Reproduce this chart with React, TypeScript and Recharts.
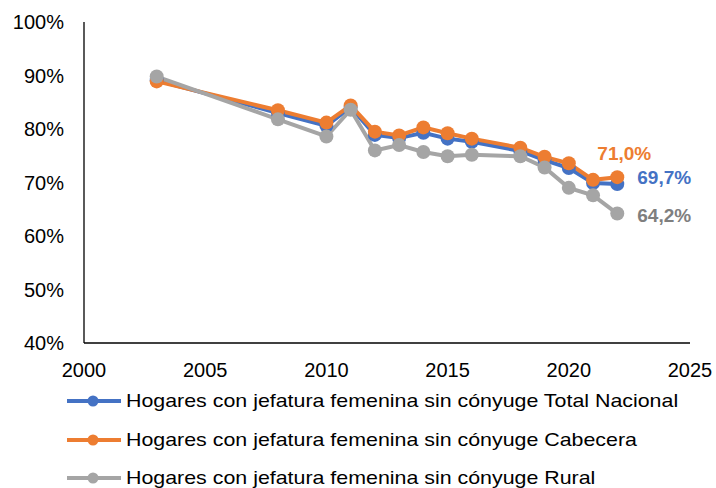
import React from 'react';
import { LineChart, Line, XAxis, YAxis, LabelList } from 'recharts';

const years = [2003, 2008, 2010, 2011, 2012, 2013, 2014, 2015, 2016, 2018, 2019, 2020, 2021, 2022];
const totalNacional = [89.1, 83.0, 80.6, 84.1, 78.9, 78.3, 79.3, 78.2, 77.6, 75.9, 74.2, 72.7, 69.9, 69.7];
const cabecera = [88.9, 83.5, 81.2, 84.4, 79.5, 78.8, 80.3, 79.2, 78.2, 76.5, 74.8, 73.6, 70.5, 71.0];
const rural = [89.8, 81.8, 78.6, 83.6, 76.0, 77.0, 75.7, 74.9, 75.2, 74.9, 72.8, 69.0, 67.6, 64.2];

const xTicks = [2000, 2005, 2010, 2015, 2020, 2025];
const yTicks = [40, 50, 60, 70, 80, 90, 100];

const seriesNames = [
  'Hogares con jefatura femenina sin cónyuge Total Nacional',
  'Hogares con jefatura femenina sin cónyuge Cabecera',
  'Hogares con jefatura femenina sin cónyuge Rural',
];

const data = years.map((year, i) => ({
  year,
  total: totalNacional[i],
  cabecera: cabecera[i],
  rural: rural[i],
}));

const FONT = '"Liberation Sans", Arial, sans-serif';
const BLUE = '#4472C4';
const ORANGE = '#ED7D31';
const GRAY = '#A5A5A5';

const fmt = (v: number) => v.toFixed(1).replace('.', ',') + '%';

// only the last point gets a label
const lastLabel = (color: string, dx: number, dy: number, anchor: string) => (props: any) => {
  const { x, y, value, index } = props;
  if (index !== years.length - 1) return null;
  return (
    <text
      x={x + dx}
      y={y + dy}
      fill={color}
      fontSize={19}
      fontWeight="bold"
      fontFamily={FONT}
      textAnchor={anchor}
      dominantBaseline="central"
    >
      {fmt(value)}
    </text>
  );
};

const legendColors = [BLUE, ORANGE, GRAY];

const App: React.FC = () => {
  return (
    <div style={{ position: 'absolute', left: 0, top: 0, width: 716, height: 488, background: '#fff', fontFamily: FONT, overflow: 'hidden' }}>
      <LineChart width={716} height={488} data={data} margin={{ top: 22, right: 26, bottom: 105, left: 0 }}>
        <XAxis
          dataKey="year"
          type="number"
          domain={[2000, 2025]}
          ticks={xTicks}
          axisLine={{ stroke: '#000', strokeWidth: 1.3 }}
          tickLine={false}
          tickSize={0}
          tickMargin={20}
          height={40}
          tick={{ fill: '#000', fontSize: 20, fontFamily: FONT }}
        />
        <YAxis
          domain={[40, 100]}
          ticks={yTicks}
          width={84}
          axisLine={{ stroke: '#000', strokeWidth: 1.3 }}
          tickLine={false}
          tickSize={0}
          tickMargin={20}
          tickFormatter={(v: number) => `${v}%`}
          tick={{ fill: '#000', fontSize: 20, fontFamily: FONT }}
        />
        <Line
          dataKey="total"
          stroke={BLUE}
          strokeWidth={4}
          dot={{ r: 7, fill: BLUE, stroke: BLUE, strokeWidth: 0 }}
          isAnimationActive={false}
        >
          <LabelList dataKey="total" content={lastLabel(BLUE, 20, -7, 'start')} />
        </Line>
        <Line
          dataKey="cabecera"
          stroke={ORANGE}
          strokeWidth={4}
          dot={{ r: 7, fill: ORANGE, stroke: ORANGE, strokeWidth: 0 }}
          isAnimationActive={false}
        >
          <LabelList dataKey="cabecera" content={lastLabel(ORANGE, 7, -24, 'middle')} />
        </Line>
        <Line
          dataKey="rural"
          stroke={GRAY}
          strokeWidth={4}
          dot={{ r: 7, fill: GRAY, stroke: GRAY, strokeWidth: 0 }}
          isAnimationActive={false}
        >
          <LabelList dataKey="rural" content={lastLabel('#7F7F7F', 20, 1.5, 'start')} />
        </Line>
      </LineChart>

      {/* legend */}
      {seriesNames.map((name, i) => (
        <div
          key={name}
          style={{
            position: 'absolute',
            left: 66,
            top: 401 + i * 38.5 - 14,
            height: 28,
            display: 'flex',
            alignItems: 'center',
            fontSize: 19,
            color: '#000',
            whiteSpace: 'nowrap',
          }}
        >
          <svg width={56} height={14} style={{ marginRight: 4 }}>
            <line x1={1} y1={7} x2={55} y2={7} stroke={legendColors[i]} strokeWidth={4} />
            <circle cx={27} cy={7} r={5.5} fill={legendColors[i]} />
          </svg>
          <span style={{ display: 'inline-block', transform: 'scaleX(1.125)', transformOrigin: 'left center' }}>{name}</span>
        </div>
      ))}
    </div>
  );
};

export default App;
